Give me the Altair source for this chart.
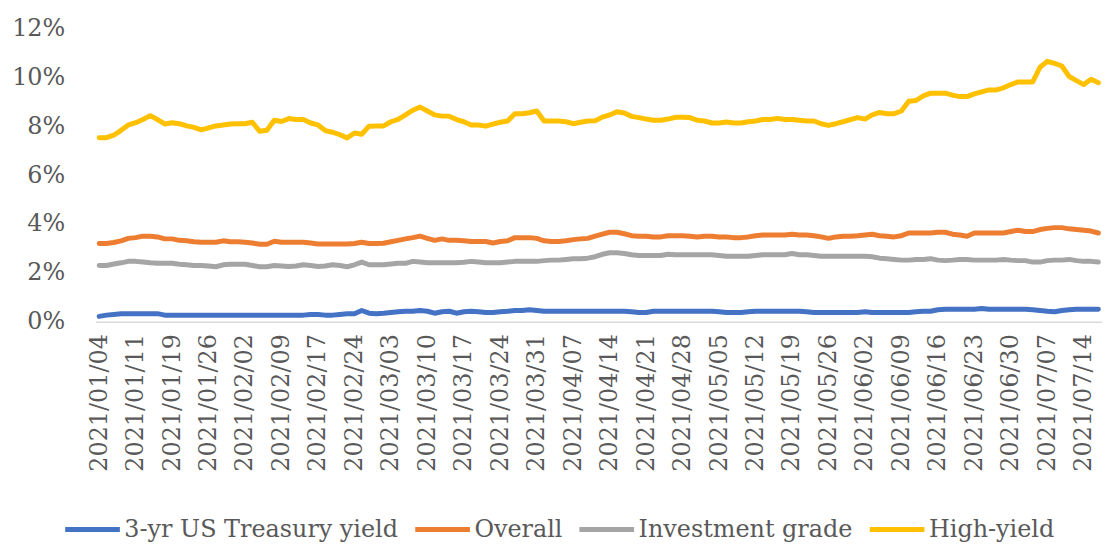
import altair as alt
import pandas as pd

# Business-day categories (US holidays 2021-01-18 and 2021-02-15 are skipped in the source)
dates = pd.bdate_range("2021-01-04", periods=138, freq="C",
                       holidays=["2021-01-18", "2021-02-15"]).strftime("%Y/%m/%d").tolist()
label_dates = dates[:136:5]

series_names = ["3-yr US Treasury yield", "Overall", "Investment grade", "High-yield"]
colors = ["#4472C4", "#ED7D31", "#A5A5A5", "#FFC000"]

treasury = ([0.22, 0.27, 0.30, 0.33, 0.33, 0.33, 0.33, 0.33, 0.33, 0.27]
            + [0.27] * 19
            + [0.30, 0.30, 0.27, 0.27, 0.30, 0.33, 0.33, 0.46, 0.35, 0.33, 0.35, 0.38, 0.41, 0.43, 0.43, 0.46, 0.43]
            + [0.35, 0.41, 0.43, 0.35, 0.41, 0.43, 0.41, 0.38, 0.38, 0.41, 0.43, 0.46, 0.46, 0.49, 0.46]
            + [0.43] * 12
            + [0.41, 0.38, 0.38]
            + [0.43] * 9
            + [0.41, 0.38, 0.38, 0.38, 0.41, 0.43]
            + [0.43] * 6
            + [0.41]
            + [0.38] * 7
            + [0.41]
            + [0.38] * 6
            + [0.41, 0.43, 0.43, 0.49, 0.51, 0.51, 0.51, 0.51, 0.51, 0.54, 0.51, 0.51, 0.51, 0.51, 0.51]
            + [0.51, 0.49, 0.46, 0.43, 0.41, 0.46, 0.49, 0.51, 0.51, 0.51, 0.51])

overall = [3.20, 3.20, 3.24, 3.31, 3.41, 3.44, 3.50, 3.50, 3.47, 3.39, 3.39, 3.33, 3.31, 3.27, 3.25, 3.25,
           3.25, 3.31, 3.27, 3.27, 3.25, 3.22, 3.17, 3.17, 3.29, 3.25, 3.25, 3.25, 3.25, 3.22, 3.18, 3.18,
           3.18, 3.18, 3.18, 3.20, 3.25, 3.20, 3.20, 3.21, 3.27, 3.33, 3.39, 3.44, 3.50, 3.41,
           3.33, 3.39, 3.33, 3.33, 3.31, 3.28, 3.28, 3.28, 3.22, 3.28, 3.31, 3.44, 3.44, 3.44, 3.41, 3.31,
           3.28, 3.28, 3.31, 3.36, 3.39, 3.41, 3.50, 3.58, 3.66, 3.66, 3.60, 3.52, 3.50, 3.50, 3.47, 3.47,
           3.52, 3.52, 3.52, 3.50, 3.47, 3.50, 3.50, 3.47, 3.47, 3.44, 3.44, 3.47, 3.52,
           3.55, 3.55, 3.55, 3.55, 3.58, 3.55, 3.55, 3.52, 3.47, 3.41, 3.47, 3.50, 3.50, 3.52, 3.55, 3.58,
           3.52, 3.50, 3.47, 3.52, 3.63, 3.63, 3.63, 3.63, 3.66, 3.66, 3.58, 3.55, 3.50, 3.63, 3.63, 3.63,
           3.63, 3.63, 3.69, 3.74, 3.69, 3.69, 3.77, 3.82, 3.85, 3.85, 3.80, 3.77, 3.74, 3.71, 3.63]

invgrade = [2.30, 2.30, 2.36, 2.41, 2.47, 2.47, 2.44, 2.41, 2.39, 2.39, 2.39, 2.35, 2.33, 2.30, 2.30, 2.28,
            2.25, 2.33, 2.35, 2.35, 2.35, 2.30, 2.25, 2.25, 2.30, 2.28, 2.26, 2.28, 2.33, 2.30, 2.26, 2.28,
            2.33, 2.30, 2.25, 2.33, 2.44, 2.33, 2.33, 2.33, 2.36, 2.39, 2.39, 2.47, 2.44, 2.41,
            2.41, 2.41, 2.41, 2.41, 2.43, 2.47, 2.44, 2.41, 2.41, 2.41, 2.44, 2.47, 2.47, 2.47, 2.47, 2.50,
            2.52, 2.52, 2.55, 2.58, 2.58, 2.60, 2.66, 2.76, 2.82, 2.82, 2.79, 2.74, 2.71, 2.71, 2.71, 2.71,
            2.76, 2.74, 2.74, 2.74, 2.74, 2.74, 2.74, 2.71, 2.68, 2.68, 2.68, 2.68, 2.71,
            2.74, 2.74, 2.74, 2.74, 2.79, 2.74, 2.74, 2.71, 2.68, 2.68, 2.68, 2.68, 2.68, 2.68, 2.68, 2.66,
            2.60, 2.58, 2.55, 2.52, 2.52, 2.55, 2.55, 2.58, 2.52, 2.50, 2.52, 2.55, 2.55, 2.52, 2.52, 2.52,
            2.52, 2.55, 2.52, 2.50, 2.50, 2.44, 2.44, 2.50, 2.52, 2.52, 2.55, 2.50, 2.47, 2.47, 2.44]

highyield = [7.53, 7.53, 7.63, 7.83, 8.05, 8.14, 8.27, 8.43, 8.27, 8.09, 8.14, 8.10, 8.01, 7.95, 7.85, 7.93,
             8.01, 8.05, 8.09, 8.10, 8.10, 8.16, 7.79, 7.83, 8.24, 8.19, 8.31, 8.27, 8.27, 8.13, 8.05, 7.82,
             7.75, 7.65, 7.52,
             7.72, 7.67, 8.00, 8.01, 8.01, 8.18, 8.28, 8.46, 8.65, 8.78, 8.62, 8.46, 8.41, 8.41, 8.27, 8.18,
             8.05, 8.05, 8.00, 8.08, 8.16, 8.21, 8.51, 8.51, 8.55, 8.62, 8.21, 8.21, 8.21, 8.18, 8.10, 8.16,
             8.21, 8.22,
             8.37, 8.46, 8.59, 8.54, 8.40, 8.35, 8.29, 8.24, 8.24, 8.29, 8.36, 8.36, 8.35, 8.24, 8.21, 8.13,
             8.13, 8.17, 8.13, 8.13, 8.18, 8.21, 8.27, 8.27, 8.32, 8.27, 8.27, 8.24, 8.21, 8.21, 8.10, 8.03,
             8.10, 8.18, 8.27, 8.35, 8.29, 8.46, 8.56, 8.51, 8.51, 8.62, 9.02, 9.05, 9.24, 9.35, 9.35, 9.35,
             9.27, 9.21, 9.21, 9.32, 9.40, 9.48, 9.48, 9.57, 9.70, 9.81, 9.81, 9.81, 10.41, 10.65, 10.57,
             10.46, 10.03, 9.86, 9.70, 9.92, 9.78]

values_by_series = [treasury, overall, invgrade, highyield]

rows = []
for name, vals in zip(series_names, values_by_series):
    for d, v in zip(dates, vals):
        rows.append({"date": d, "value": v, "series": name})
df = pd.DataFrame(rows)

FONT = "DejaVu Serif"
TXT = "#595959"

chart = alt.Chart(df).mark_line(strokeWidth=5, strokeCap="round", strokeJoin="round").encode(
    x=alt.X("date:O", sort=dates,
            scale=alt.Scale(type="point", range=[6, 1018]),
            axis=alt.Axis(values=label_dates, labelAngle=-90, title=None, ticks=False, tickSize=0,
                          labelPadding=12, labelFont=FONT, labelFontSize=24, labelColor=TXT,
                          labelOverlap=False, domainColor="#D9D9D9", domainWidth=1.5, grid=False)),
    y=alt.Y("value:Q", scale=alt.Scale(domain=[0, 12], nice=False, zero=True),
            axis=alt.Axis(values=[0, 2, 4, 6, 8, 10, 12], labelExpr="datum.value + '%'", title=None,
                          domain=False, ticks=False, tickSize=0, grid=False, labelPadding=25,
                          labelFont=FONT, labelFontSize=24, labelColor=TXT)),
    color=alt.Color("series:N", sort=series_names,
                    scale=alt.Scale(domain=series_names, range=colors),
                    legend=alt.Legend(title=None, orient="none", legendX=-27, legendY=474,
                                      direction="horizontal", symbolType="stroke", symbolSize=3025,
                                      symbolStrokeWidth=5, labelFont=FONT, labelFontSize=24,
                                      labelColor=TXT, labelOffset=2, columnPadding=6,
                                      labelLimit=500)),
).properties(
    width=1018, height=295,
    autosize=alt.AutoSizeParams(type="none"),
    padding={"left": 82, "top": 19, "right": 0, "bottom": 222},
).configure_view(stroke=None)

chart.save("out.html", embed_options={"renderer": "svg", "actions": False})
